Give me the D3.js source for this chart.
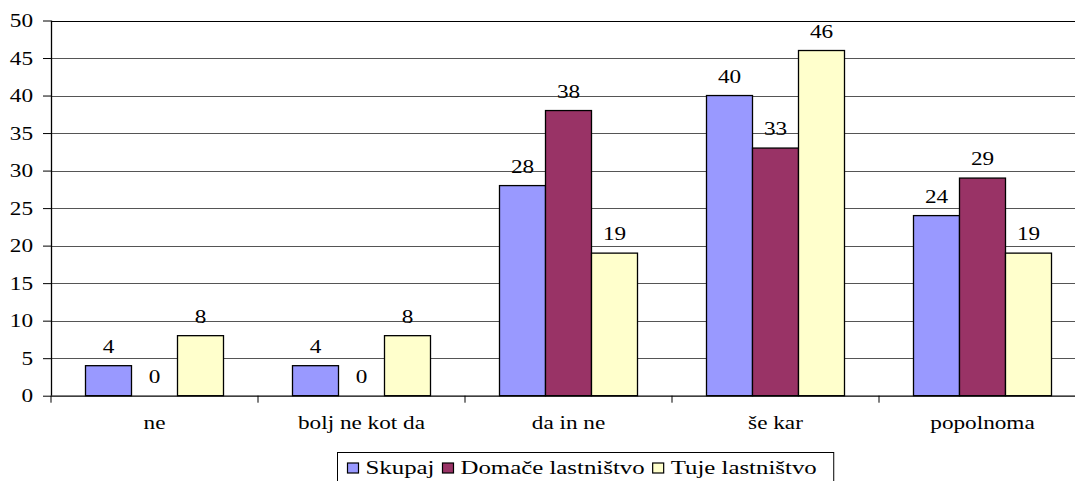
<!DOCTYPE html>
<html>
<head>
<meta charset="utf-8">
<script src="https://cdn.jsdelivr.net/npm/d3@7/dist/d3.min.js"></script>
<style>
  html, body { margin: 0; padding: 0; background: #fff; }
  svg { display: block; }
</style>
</head>
<body>
<svg id="chart" width="1075" height="481"></svg>
<script>
// Categories and series
const categories = ["ne", "bolj ne kot da", "da in ne", "še kar", "popolnoma"];
const seriesNames = ["Skupaj", "Domače lastništvo", "Tuje lastništvo"];
const skupaj = [4, 4, 28, 40, 24];
const domace = [0, 0, 38, 33, 29];
const tuje = [8, 8, 19, 46, 19];
const yTicks = [0, 5, 10, 15, 20, 25, 30, 35, 40, 45, 50];
const colors = ["#9999FF", "#993366", "#FFFFCC"];

const seriesValues = [skupaj, domace, tuje];
const rows = categories.map((c, i) => ({
  category: c,
  values: seriesNames.map((s, k) => ({ series: s, value: seriesValues[k][i], color: colors[k] }))
}));

const FONT = "'Liberation Serif', 'Times New Roman', Times, 'DejaVu Serif', serif";
const svg = d3.select("#chart");
const SX = 1.29;         // horizontal stretch of the typeface
const SX_LEG = 1.38;     // legend type is set slightly wider
const FS = 18;

function styleText(sel) {
  return sel.style("font-family", FONT).style("font-size", FS + "px").style("fill", "#000");
}

const plotLeft = 51, plotBottom = 395.7, plotTop = 20.5, plotRight = 1086;

const y = d3.scaleLinear().domain([0, 50]).range([plotBottom, plotTop]);
const x0 = d3.scaleBand().domain(categories).range([plotLeft, plotRight]).paddingInner(0).paddingOuter(0);
const bw = x0.bandwidth();
const x1 = d3.scaleBand().domain(seriesNames).range([bw / 6, bw * 5 / 6]).padding(0);

// gridlines
svg.append("g")
  .selectAll("line")
  .data(yTicks.filter(t => t > 0))
  .join("line")
  .attr("x1", plotLeft).attr("x2", plotRight)
  .attr("y1", d => Math.round(y(d)) + 0.5).attr("y2", d => Math.round(y(d)) + 0.5)
  .attr("stroke", d => d === 50 ? "#000" : "#555")
  .attr("stroke-width", 1);

// bars
const groups = svg.append("g")
  .selectAll("g")
  .data(rows)
  .join("g")
  .attr("transform", d => `translate(${x0(d.category)},0)`);

groups.selectAll("rect")
  .data(d => d.values.filter(v => v.value > 0))
  .join("rect")
  .attr("x", d => x1(d.series))
  .attr("y", d => y(d.value))
  .attr("width", x1.bandwidth())
  .attr("height", d => y(0) - y(d.value))
  .attr("fill", d => d.color)
  .attr("stroke", "#000")
  .attr("stroke-width", 1.3);

// value labels
groups.selectAll("text.val")
  .data(d => d.values)
  .join("text")
  .attr("class", "val")
  .attr("text-anchor", "middle")
  .attr("transform", d => `translate(${x1(d.series) + x1.bandwidth() / 2},${y(d.value) - 13}) scale(${SX},1)`)
  .text(d => d3.format("d")(d.value))
  .call(styleText);

// y axis
const yAxis = svg.append("g")
  .attr("transform", `translate(${plotLeft},0)`)
  .call(d3.axisLeft(y).tickValues(yTicks).tickSize(8).tickPadding(0).tickFormat(d3.format("d")));
yAxis.select(".domain").attr("stroke", "#000").attr("stroke-width", 1.3).attr("d", `M0.5,${plotTop}V${plotBottom}`);
yAxis.selectAll(".tick line").attr("stroke", "#000");
yAxis.selectAll(".tick text")
  .attr("x", null).attr("dy", null)
  .attr("text-anchor", "end")
  .attr("transform", `translate(-18,6) scale(${SX},1)`)
  .call(styleText);

// x axis
const xAxisG = svg.append("g").attr("transform", `translate(0,${plotBottom})`);
xAxisG.append("line")
  .attr("x1", plotLeft).attr("x2", plotRight)
  .attr("y1", 0.5).attr("y2", 0.5)
  .attr("stroke", "#000").attr("stroke-width", 1.3);
xAxisG.selectAll("line.tk")
  .data(categories.map(c => x0(c)).concat([plotRight]))
  .join("line")
  .attr("class", "tk")
  .attr("x1", d => d).attr("x2", d => d)
  .attr("y1", 0).attr("y2", 7)
  .attr("stroke", "#000");
xAxisG.selectAll("text")
  .data(categories)
  .join("text")
  .attr("text-anchor", "middle")
  .attr("transform", d => `translate(${x0(d) + bw / 2},33) scale(${SX},1)`)
  .text(d => d)
  .call(styleText);

// legend
const legend = svg.append("g");
const legendBox = legend.append("rect")
  .attr("fill", "#fff").attr("stroke", "#000").attr("stroke-width", 1);
let cx = 347.5;
const ly = 474;
seriesNames.forEach((s, k) => {
  legend.append("rect")
    .attr("x", cx).attr("y", ly - 11)
    .attr("width", 11).attr("height", 10)
    .attr("fill", colors[k]).attr("stroke", "#000").attr("stroke-width", 1.2);
  const t = legend.append("text")
    .attr("transform", `translate(${cx + 18},${ly}) scale(${SX_LEG},1)`)
    .text(s)
    .call(styleText);
  const w = t.node().getComputedTextLength() * SX_LEG;
  cx += 18 + w + 8;
});
legendBox.attr("x", 337.5).attr("y", 452.5).attr("width", cx - 337.5 + 9).attr("height", 30);
</script>
</body>
</html>
